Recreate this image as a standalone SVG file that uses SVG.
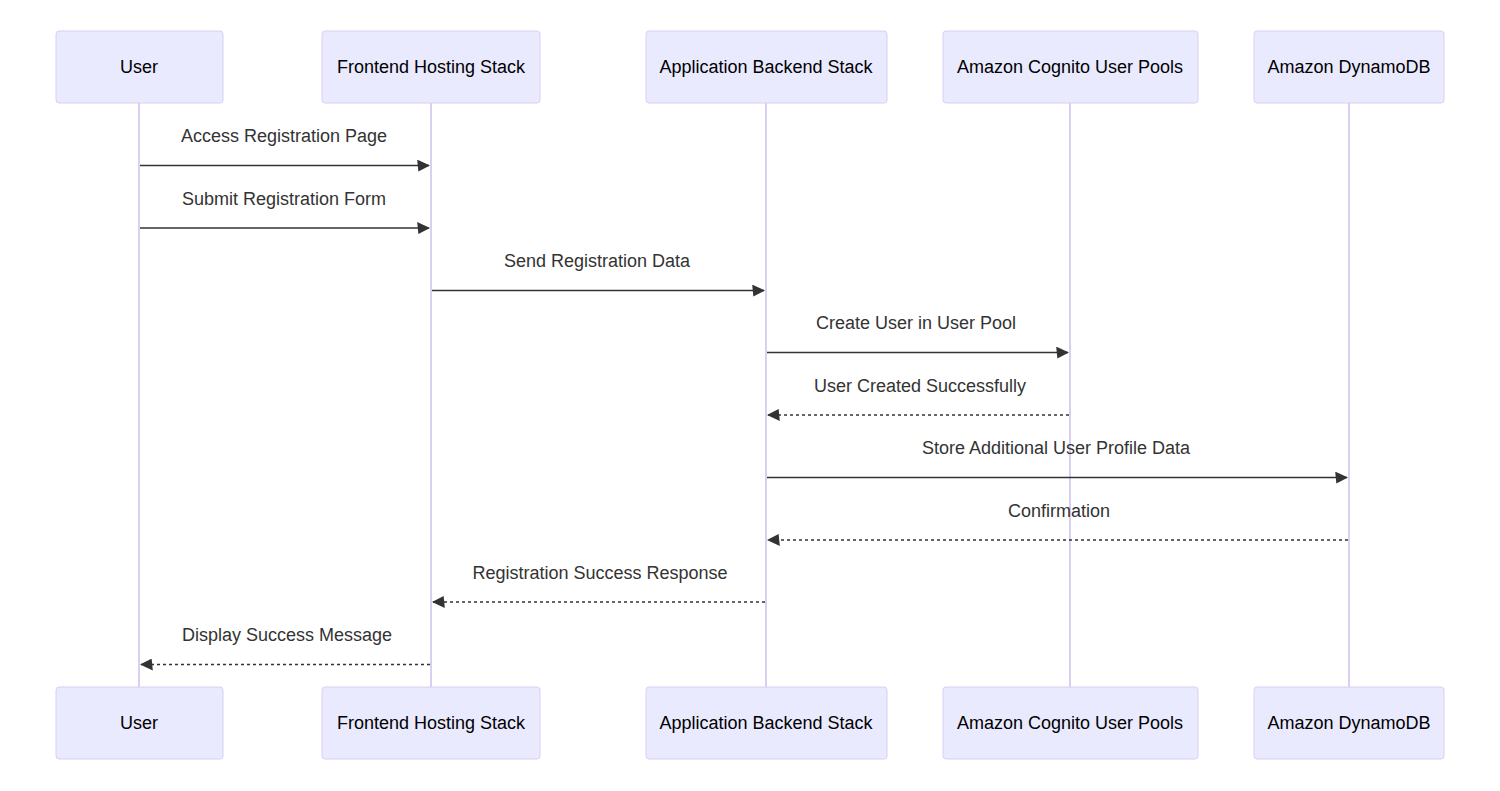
<svg xmlns="http://www.w3.org/2000/svg" width="1500" height="791" viewBox="0 0 1500 791">
<style>
.actor{fill:#eaeaff;stroke:#dacef3;stroke-width:1}
.atext{font-family:"Liberation Sans",Arial,sans-serif;font-size:18px;fill:#000;text-anchor:middle;dominant-baseline:central}
.life{stroke:#dacef3;stroke-width:2;fill:none}
.msg{stroke:#333;stroke-width:1.5;fill:none}
.dash{stroke-dasharray:3,3}
.mtext{font-family:"Liberation Sans",Arial,sans-serif;font-size:18px;fill:#333;text-anchor:middle;dominant-baseline:central}
</style>
<defs>
<marker id="arrow" viewBox="-1 0 11 10" refX="9" refY="5" markerUnits="userSpaceOnUse" markerWidth="13" markerHeight="12" orient="auto">
<path d="M -1 0 L 10 5 L 0 10 z" fill="#333" stroke="none"/>
</marker>
</defs>
<rect width="1500" height="791" fill="#fff"/>
<g id="lifelines">
<line class="life" x1="139" y1="103" x2="139" y2="687"/>
<line class="life" x1="431" y1="103" x2="431" y2="687"/>
<line class="life" x1="766" y1="103" x2="766" y2="687"/>
<line class="life" x1="1070" y1="103" x2="1070" y2="687"/>
<line class="life" x1="1349" y1="103" x2="1349" y2="687"/>
</g>
<g id="user">
<rect class="actor" x="56" y="31" width="167" height="72" rx="3"/>
<text class="atext" x="139" y="67">User</text>
<rect class="actor" x="56" y="687" width="167" height="72" rx="3"/>
<text class="atext" x="139" y="723">User</text>
</g>
<g id="frontend">
<rect class="actor" x="322" y="31" width="218" height="72" rx="3"/>
<text class="atext" x="431" y="67">Frontend Hosting Stack</text>
<rect class="actor" x="322" y="687" width="218" height="72" rx="3"/>
<text class="atext" x="431" y="723">Frontend Hosting Stack</text>
</g>
<g id="backend">
<rect class="actor" x="646" y="31" width="241" height="72" rx="3"/>
<text class="atext" x="766" y="67">Application Backend Stack</text>
<rect class="actor" x="646" y="687" width="241" height="72" rx="3"/>
<text class="atext" x="766" y="723">Application Backend Stack</text>
</g>
<g id="cognito">
<rect class="actor" x="943" y="31" width="255" height="72" rx="3"/>
<text class="atext" x="1070" y="67">Amazon Cognito User Pools</text>
<rect class="actor" x="943" y="687" width="255" height="72" rx="3"/>
<text class="atext" x="1070" y="723">Amazon Cognito User Pools</text>
</g>
<g id="dynamodb">
<rect class="actor" x="1254" y="31" width="190" height="72" rx="3"/>
<text class="atext" x="1349" y="67">Amazon DynamoDB</text>
<rect class="actor" x="1254" y="687" width="190" height="72" rx="3"/>
<text class="atext" x="1349" y="723">Amazon DynamoDB</text>
</g>
<g id="connectors">
<line class="msg" x1="140" y1="165.5" x2="429" y2="165.5" marker-end="url(#arrow)"/>
<text class="mtext" x="284" y="136">Access Registration Page</text>
<line class="msg" x1="140" y1="228" x2="429" y2="228" marker-end="url(#arrow)"/>
<text class="mtext" x="284" y="199">Submit Registration Form</text>
<line class="msg" x1="432" y1="290.5" x2="764" y2="290.5" marker-end="url(#arrow)"/>
<text class="mtext" x="597" y="261">Send Registration Data</text>
<line class="msg" x1="767" y1="352.5" x2="1068" y2="352.5" marker-end="url(#arrow)"/>
<text class="mtext" x="916" y="323">Create User in User Pool</text>
<line class="msg dash" x1="1069" y1="415" x2="768" y2="415" marker-end="url(#arrow)"/>
<text class="mtext" x="920" y="386">User Created Successfully</text>
<line class="msg" x1="767" y1="477.5" x2="1347" y2="477.5" marker-end="url(#arrow)"/>
<text class="mtext" x="1056" y="448">Store Additional User Profile Data</text>
<line class="msg dash" x1="1348" y1="540" x2="768" y2="540" marker-end="url(#arrow)"/>
<text class="mtext" x="1059" y="511">Confirmation</text>
<line class="msg dash" x1="765" y1="602" x2="433" y2="602" marker-end="url(#arrow)"/>
<text class="mtext" x="600" y="573">Registration Success Response</text>
<line class="msg dash" x1="430" y1="664.5" x2="141" y2="664.5" marker-end="url(#arrow)"/>
<text class="mtext" x="287" y="635">Display Success Message</text>
</g>
</svg>
